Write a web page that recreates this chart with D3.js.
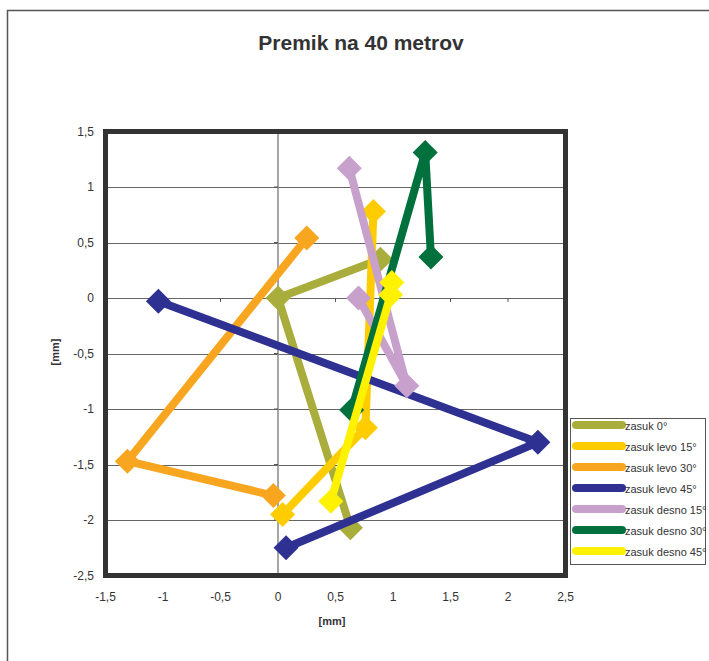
<!DOCTYPE html>
<html>
<head>
<meta charset="utf-8">
<script src="https://cdn.jsdelivr.net/npm/d3@7"></script>
<style>
  body { margin: 0; background: #fff; }
  text { font-family: "Liberation Sans", Arial, sans-serif; }
</style>
</head>
<body>
<svg id="chart" width="709" height="661"></svg>
<script>
// Data: [x, y] in mm
var seriesNames = ["zasuk 0°", "zasuk levo 15°", "zasuk levo 30°", "zasuk levo 45°",
                   "zasuk desno 15°", "zasuk desno 30°", "zasuk desno 45°"];
var seriesColors = ["#A8AD3C", "#FFCC00", "#F8A520", "#2E3192", "#C8A0CC", "#00703C", "#FFF200"];
var zasuk0 = [[0.89, 0.35], [0, 0], [0.63, -2.07]];
var levo15 = [[0.83, 0.78], [0.76, -1.17], [0.04, -1.95]];
var levo30 = [[0.25, 0.54], [-1.31, -1.47], [-0.04, -1.78]];
var levo45 = [[-1.04, -0.03], [2.26, -1.30], [0.07, -2.25]];
var desno15 = [[0.62, 1.17], [1.12, -0.79], [0.70, 0.0]];
var desno30 = [[1.33, 0.37], [1.28, 1.31], [0.64, -1.01]];
var desno45 = [[0.99, 0.14], [0.98, 0.03], [0.46, -1.83]];
var seriesData = [zasuk0, levo15, levo30, levo45, desno15, desno30, desno45];

var xTicks = [-1.5, -1, -0.5, 0, 0.5, 1, 1.5, 2, 2.5];
var yTicks = [-2.5, -2, -1.5, -1, -0.5, 0, 0.5, 1, 1.5];

var svg = d3.select("#chart");

// outer chart frame
svg.append("rect")
    .attr("x", 7.5).attr("y", 10.5)
    .attr("width", 720).attr("height", 670)
    .attr("fill", "none").attr("stroke", "#555").attr("stroke-width", 1.5);

// title
svg.append("text")
    .attr("x", 361).attr("y", 50)
    .attr("text-anchor", "middle")
    .style("font-size", "21px").style("font-weight", "bold").style("fill", "#333")
    .text("Premik na 40 metrov");

var x = d3.scaleLinear().domain([-1.5, 2.5]).range([105.5, 565.5]);
var y = d3.scaleLinear().domain([-2.5, 1.5]).range([575.5, 131.5]);

// horizontal gridlines
svg.append("g").selectAll("line")
    .data(yTicks.filter(d => d > -2.5 && d < 1.5))
    .enter().append("line")
    .attr("x1", x(-1.5)).attr("x2", x(2.5))
    .attr("y1", d => Math.round(y(d)) + 0.5).attr("y2", d => Math.round(y(d)) + 0.5)
    .attr("stroke", "#666").attr("stroke-width", 1.2);

// vertical line at x = 0
svg.append("line")
    .attr("x1", x(0)).attr("x2", x(0))
    .attr("y1", y(1.5)).attr("y2", y(-2.5))
    .attr("stroke", "#888").attr("stroke-width", 1.5);

// small tick marks on the zero axes
svg.append("g").selectAll("line")
    .data(yTicks)
    .enter().append("line")
    .attr("x1", x(0) - 4).attr("x2", x(0))
    .attr("y1", d => y(d)).attr("y2", d => y(d))
    .attr("stroke", "#555");
svg.append("g").selectAll("line")
    .data(xTicks)
    .enter().append("line")
    .attr("x1", d => x(d)).attr("x2", d => x(d))
    .attr("y1", y(0)).attr("y2", y(0) + 4)
    .attr("stroke", "#555");

// series lines and diamond markers
var line = d3.line().x(d => x(d[0])).y(d => y(d[1]));
function diamond(cx, cy, r) {
    return "M" + cx + "," + (cy - r) + "L" + (cx + r) + "," + cy +
           "L" + cx + "," + (cy + r) + "L" + (cx - r) + "," + cy + "Z";
}

seriesData.forEach(function(data, i) {
    var g = svg.append("g");
    g.append("path")
        .datum(data)
        .attr("fill", "none")
        .attr("stroke", seriesColors[i])
        .attr("stroke-width", 8)
        .attr("stroke-linejoin", "round")
        .attr("d", line);
    g.selectAll("path.mark")
        .data(data)
        .enter().append("path")
        .attr("class", "mark")
        .attr("fill", seriesColors[i])
        .attr("d", d => diamond(x(d[0]), y(d[1]), 12.5));
});

// plot area border
svg.append("rect")
    .attr("x", x(-1.5)).attr("y", y(1.5))
    .attr("width", x(2.5) - x(-1.5)).attr("height", y(-2.5) - y(1.5))
    .attr("fill", "none").attr("stroke", "#333").attr("stroke-width", 5);

// tick labels
svg.append("g").selectAll("text")
    .data(yTicks)
    .enter().append("text")
    .attr("x", 94).attr("y", d => y(d) + 4)
    .attr("text-anchor", "end")
    .style("font-size", "12px").style("fill", "#333")
    .text(d => String(d).replace(".", ","));
svg.append("g").selectAll("text")
    .data(xTicks)
    .enter().append("text")
    .attr("x", d => x(d)).attr("y", 601)
    .attr("text-anchor", "middle")
    .style("font-size", "12px").style("fill", "#333")
    .text(d => String(d).replace(".", ","));

// axis titles
svg.append("text")
    .attr("x", 332).attr("y", 625)
    .attr("text-anchor", "middle")
    .style("font-size", "11px").style("font-weight", "bold").style("fill", "#333")
    .text("[mm]");
svg.append("text")
    .attr("transform", "translate(59,352) rotate(-90)")
    .attr("text-anchor", "middle")
    .style("font-size", "11px").style("font-weight", "bold").style("fill", "#333")
    .text("[mm]");

// legend
var legend = svg.append("g");
legend.append("rect")
    .attr("x", 570.5).attr("y", 418.5)
    .attr("width", 135).attr("height", 146)
    .attr("fill", "#fff").attr("stroke", "#555").attr("stroke-width", 1);
seriesNames.forEach(function(name, i) {
    var ly = 425 + i * 21;
    legend.append("line")
        .attr("x1", 576).attr("x2", 622)
        .attr("y1", ly).attr("y2", ly)
        .attr("stroke", seriesColors[i]).attr("stroke-width", 8)
        .attr("stroke-linecap", "round");
    legend.append("path")
        .attr("fill", seriesColors[i])
        .attr("d", diamond(599, ly, 4));
    legend.append("text")
        .attr("x", 625).attr("y", ly + 5)
        .style("font-size", "11px").style("fill", "#333")
        .text(name);
});
</script>
</body>
</html>
